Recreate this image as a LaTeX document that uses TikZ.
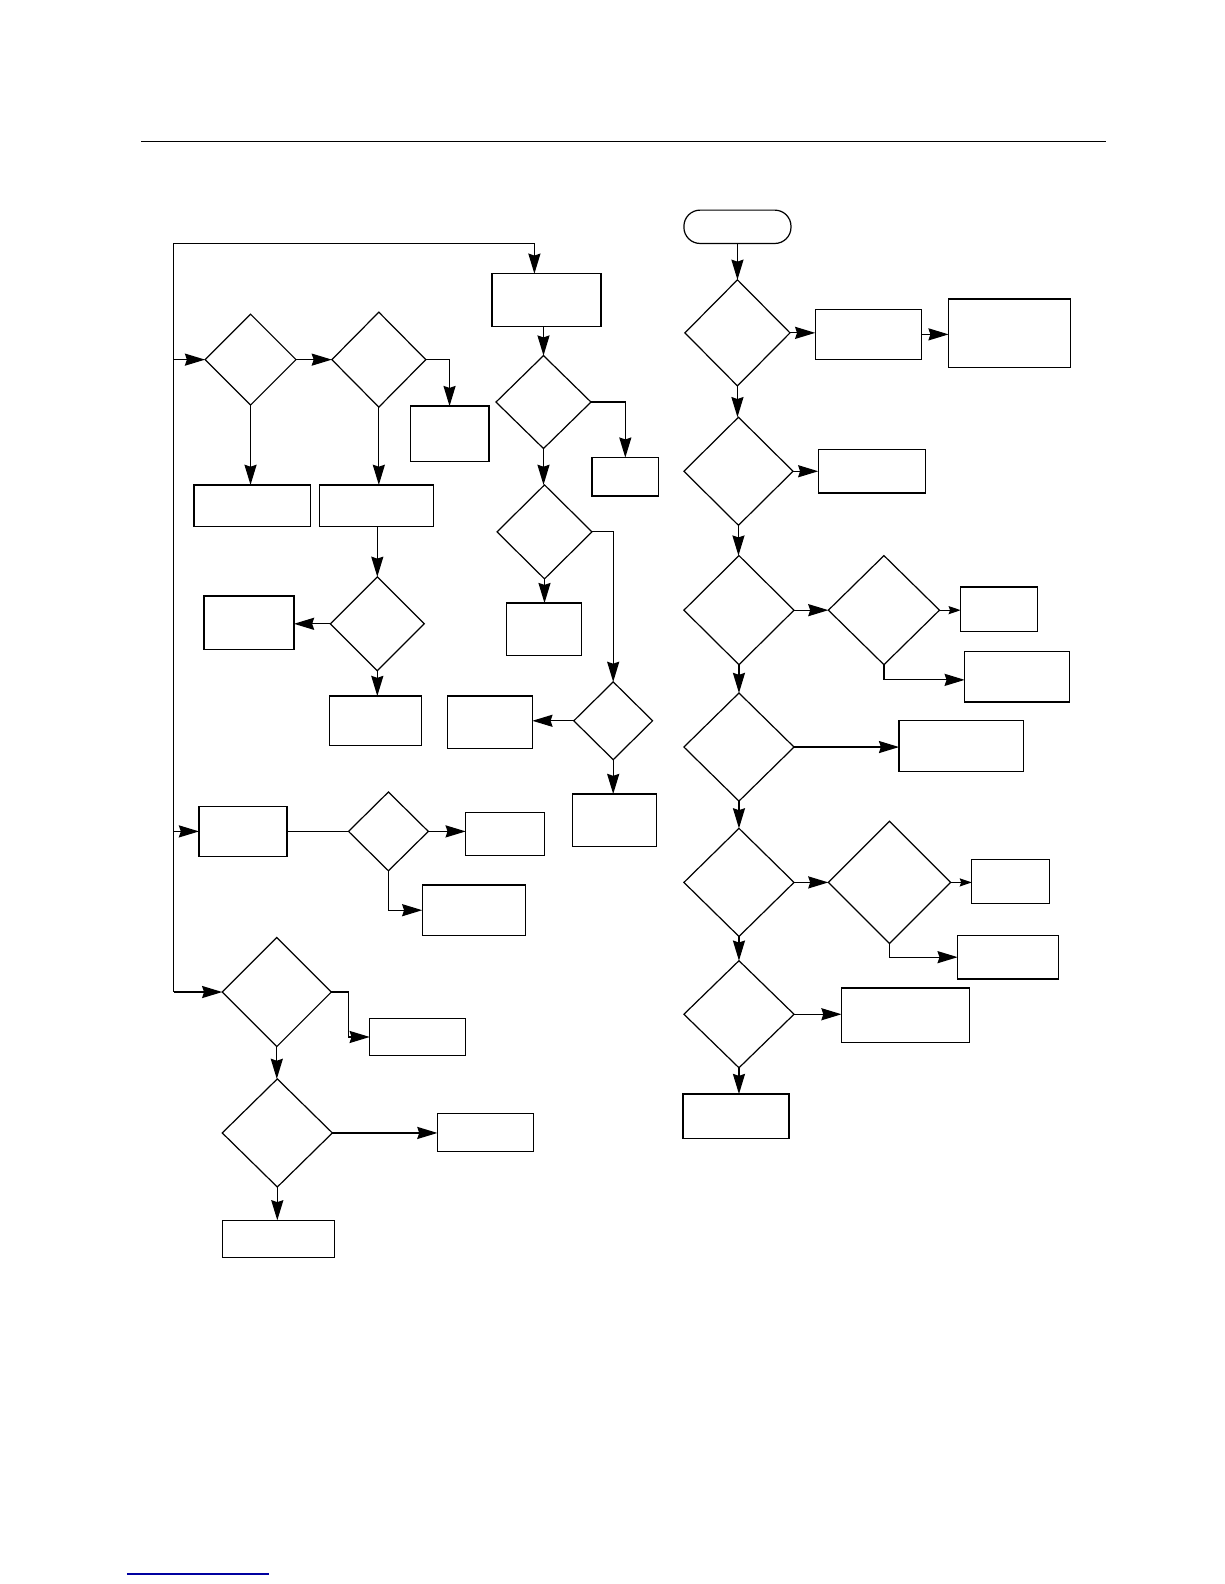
\documentclass[tikz,border=0pt]{standalone}
\usepackage{xcolor}
\usepackage{tikz}
\usetikzlibrary{arrows.meta,shapes.geometric}
\definecolor{figline}{RGB}{0,0,0}
\definecolor{figlink}{RGB}{0,0,160}
\tikzset{
  ln/.style   ={draw=figline, line width=1.2pt},
  arr/.style  ={ln, -{Stealth[length=20pt,width=12pt,inset=2pt]}},
  sarr/.style ={ln, -{Stealth[length=12pt,width=8pt,inset=1.5pt]}},
  bx/.style 2 args ={draw=figline, line width=1.2pt, rectangle, inner sep=0pt, outer sep=0pt,
                     minimum width=#1pt, minimum height=#2pt},
  dia/.style 2 args={draw=figline, line width=1.2pt, diamond, inner sep=0pt, outer sep=0pt,
                     shape aspect=1, minimum width=#1pt, minimum height=#2pt},
  term/.style ={draw=figline, line width=1.2pt, rectangle, rounded corners=16pt, inner sep=0pt,
                outer sep=0pt, minimum width=106pt, minimum height=33pt},
}
\begin{document}
\begin{tikzpicture}[x=1pt,y=-1pt]
  \useasboundingbox (0,0) rectangle (1212,1568);
  \draw[draw=figline,line width=1.8pt] (140,140) -- (1095,140);
  \draw[draw=figlink,line width=1.4pt] (125.5,1558) -- (266,1558);
  % left part
  \node[dia={90}{90}] (A) at (248,356) {};
  \node[dia={93}{94}] (B) at (375,356) {};
  \node[bx={78}{55}] (B1) at (445,429.5) {};
  \node[bx={115}{41}] (A1) at (249.5,500.5) {};
  \node[bx={113}{41}] (B2) at (372.5,500.5) {};
  \node[dia={93}{93}] (C) at (373.5,617.5) {};
  \node[bx={89}{53}] (C1) at (246.5,616.5) {};
  \node[bx={91}{49}] (C2) at (371.5,713.5) {};
  \node[bx={87}{50}] (G) at (240.5,823) {};
  \node[dia={79}{78}] (H) at (384.5,823) {};
  \node[bx={78}{43}] (H1) at (500,825.5) {};
  \node[bx={102}{50}] (H2) at (469,901) {};
  \node[dia={108}{108}] (I) at (274,982) {};
  \node[bx={95}{37}] (I1) at (413.5,1026.5) {};
  \node[dia={109}{107}] (J) at (274.5,1121.5) {};
  \node[bx={95}{38}] (J1) at (480.5,1121) {};
  \node[bx={111}{37}] (J2) at (275.5,1226.5) {};
  % middle part
  \node[bx={108}{52}] (T1) at (541,297) {};
  \node[dia={94}{92}] (D) at (538,398) {};
  \node[bx={66}{38}] (D1) at (619,472) {};
  \node[dia={94}{93}] (E) at (539,526.5) {};
  \node[bx={75}{52}] (E1) at (538.5,623) {};
  \node[dia={78}{77}] (F) at (607,713.5) {};
  \node[bx={84}{52}] (F1) at (485,715) {};
  \node[bx={83}{52}] (F2) at (608.5,812) {};
  % right part
  \node[term] (S) at (730,224.5) {};
  \node[dia={104}{105}] (K) at (730,329.5) {};
  \node[bx={105}{50}] (K1) at (859.5,331) {};
  \node[bx={121}{68}] (K2) at (999.5,330) {};
  \node[dia={108}{107}] (L) at (731,466.5) {};
  \node[bx={106}{43}] (L1) at (863,466.5) {};
  \node[dia={109}{108}] (M) at (731.5,604) {};
  \node[dia={110}{108}] (N) at (875,604) {};
  \node[bx={76}{44}] (N1) at (989,603) {};
  \node[bx={104}{50}] (N2) at (1007,670) {};
  \node[dia={109}{107}] (O) at (731.5,739.5) {};
  \node[bx={123}{51}] (O1) at (951.5,738.5) {};
  \node[dia={109}{107}] (P) at (731.5,873.5) {};
  \node[dia={121}{121}] (Q) at (880.5,873.5) {};
  \node[bx={77}{43}] (Q1) at (1000.5,872.5) {};
  \node[bx={100}{43}] (Q2) at (998,947.5) {};
  \node[dia={109}{106}] (R) at (731.5,1004) {};
  \node[bx={127}{54}] (R1) at (896.5,1005) {};
  \node[bx={105}{44}] (R2) at (728.5,1105) {};
  % trunk on the left
  \coordinate (lt) at (172,241);
  \draw[ln] (lt) -- (lt |- I.west);
  \draw[arr] (lt) -| ([xshift=-12pt]T1.north);
  \draw[arr] (lt |- A.west) -- (A.west);
  \draw[arr] (lt |- G.west) -- (G.west);
  \draw[arr] (lt |- I.west) -- (I.west);
  % connectors
  \draw[arr] (A.east) -- (B.west);
  \draw[arr] (B.east) -| (B1.north);
  \draw[arr] (A.south) -- (A.south |- A1.north);
  \draw[arr] (B.south) -- (B.south |- B2.north);
  \draw[arr] (B2.south -| C.north) -- (C.north);
  \draw[arr] (C.west) -- (C.west -| C1.east);
  \draw[arr] (C.south) -- (C.south |- C2.north);
  \draw[ln] (G.east) -- (H.west);
  \draw[arr] (H.east) -- (H.east -| H1.west);
  \draw[arr] (H.south) |- (H2.west);
  \draw[arr] (I.east) -- ++(17,0) |- (I1.west);
  \draw[arr] (I.south) -- (I.south |- J.north);
  \draw[arr] (J.east) -- (J.east -| J1.west);
  \draw[arr] (J.south) -- (J.south |- J2.north);
  \draw[arr] (T1.south -| D.north) -- (D.north);
  \draw[arr] (D.east) -| (D1.north);
  \draw[arr] (D.south) -- (D.south |- E.north);
  \draw[arr] (E.east) -| (F.north);
  \draw[arr] (E.south) -- (E.south |- E1.north);
  \draw[arr] (F.west) -- (F.west -| F1.east);
  \draw[arr] (F.south) -- (F.south |- F2.north);
  \draw[arr] (S.south) -- (S.south |- K.north);
  \draw[arr] (K.east) -- (K.east -| K1.west);
  \draw[arr] (K1.east) -- (K1.east -| K2.west);
  \draw[arr] (K.south) -- (K.south |- L.north);
  \draw[arr] (L.east) -- (L.east -| L1.west);
  \draw[arr] (L.south) -- (L.south |- M.north);
  \draw[arr] (M.east) -- (N.west);
  \draw[sarr] (N.east) -- (N.east -| N1.west);
  \draw[arr] (N.south) |- ([yshift=-3pt]N2.west);
  \draw[arr] (M.south) -- (M.south |- O.north);
  \draw[arr] (O.east) -- (O.east -| O1.west);
  \draw[arr] (O.south) -- (O.south |- P.north);
  \draw[arr] (P.east) -- (Q.west);
  \draw[sarr] (Q.east) -- (Q.east -| Q1.west);
  \draw[arr] (Q.south) |- (Q2.west);
  \draw[arr] (P.south) -- (P.south |- R.north);
  \draw[arr] (R.east) -- (R.east -| R1.west);
  \draw[arr] (R.south) -- (R.south |- R2.north);
\end{tikzpicture}
\end{document}
